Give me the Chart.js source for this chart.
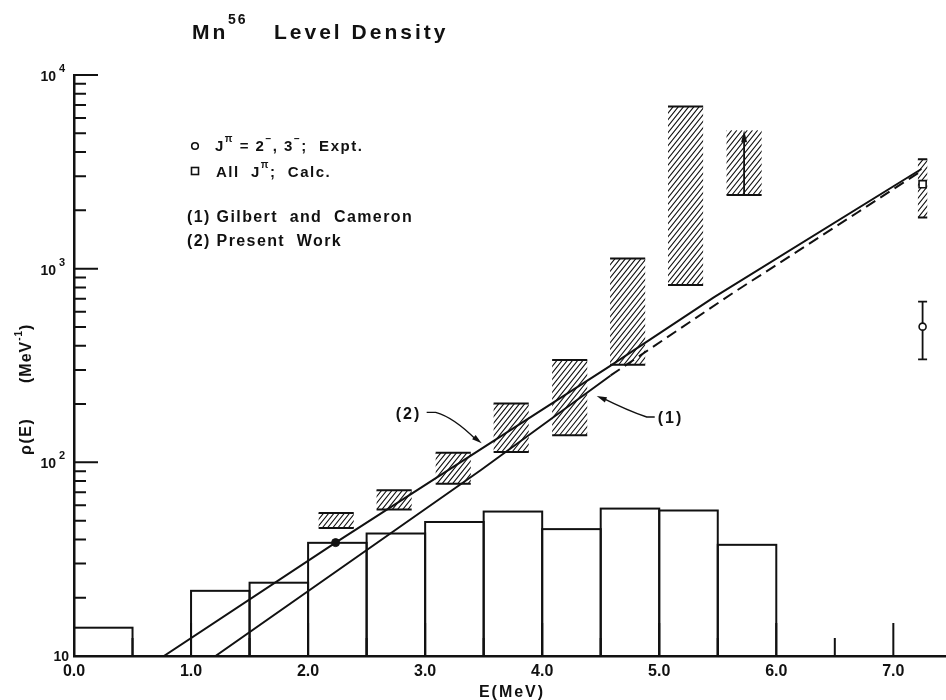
<!DOCTYPE html>
<html>
<head>
<meta charset="utf-8">
<title>Mn56 Level Density</title>
<script src="https://cdn.jsdelivr.net/npm/chart.js@4.4.1/dist/chart.umd.min.js"></script>
<style>
  body { margin: 0; background: #fff; }
</style>
</head>
<body>
<canvas id="chart" width="946" height="700"></canvas>
<script>
// calculated density, all J^pi, 0.5 MeV bins (bin start in MeV)
const binStart = [0.0, 1.0, 1.5, 2.0, 2.5, 3.0, 3.5, 4.0, 4.5, 5.0, 5.5];
const calcDensity = [14, 21.7, 23.9, 38.4, 42.9, 49.2, 55.7, 45.2, 57.7, 56.4, 37.5];
const binWidth = 0.5;

// experimental J^pi = 2-,3- ranges (hatched bands)
const bandCenter = [2.24, 2.735, 3.24, 3.735, 4.235, 4.73, 5.225, 5.725, 7.25];
const bandWidth = [0.3, 0.3, 0.3, 0.3, 0.3, 0.3, 0.3, 0.3, 0.08];
const bandLow = [45.8, 57, 77.6, 113, 138, 319, 824, 2400, 1840];
const bandHigh = [54.8, 71.8, 112, 201, 338, 1130, 6870, 5190, 3670];
const bandLowerLimit = [false, false, false, false, false, false, false, true, false];

// (2) present work
const presentE = [0.768, 2.235, 4.585, 5.466, 7.24];
const presentRho = [10, 38.5, 316, 711, 3270];

// (1) Gilbert and Cameron, solid part then dashed continuation
const gcE = [1.209, 3.474, 4.585];
const gcRho = [10, 91, 281];
const gcDashE = [4.585, 5.639, 6.694, 7.24];
const gcDashRho = [281, 755, 1950, 3200];

// points near the neutron binding energy
const exptE = [7.25];
const exptRho = [502];
const exptLow = [340];
const exptHigh = [676];
const calcAllE = [7.25];
const calcAllRho = [2730];
const matchE = [2.235];
const matchRho = [38.5];

// where the "(1)" and "(2)" arrows point
const curveTipE = [4.466, 3.483];
const curveTipRho = [220, 125.3];

const xTickValues = [0, 1, 2, 3, 4, 5, 6, 7];
const yDecades = [10, 100, 1000, 10000];
const yExponents = ["", "2", "3", "4"];

const FONT = '"Liberation Sans", Arial, sans-serif';
const INK = "#111";

const pts = (xs, ys) => xs.map((x, i) => ({ x: x, y: ys[i] }));

function setFont(ctx, size, spacing) {
  ctx.font = "bold " + size + "px " + FONT;
  ctx.letterSpacing = (spacing || 0) + "px";
}

// draw a run of text pieces, some raised as superscripts
function drawRich(ctx, x, y, parts, spacing) {
  let cx = x;
  parts.forEach(p => {
    setFont(ctx, p[1], spacing);
    ctx.fillText(p[0], cx, y - (p[2] || 0));
    cx += ctx.measureText(p[0]).width;
  });
  return cx;
}

function arrowHead(ctx, tx, ty, fromX, fromY, len, half) {
  const a = Math.atan2(ty - fromY, tx - fromX);
  ctx.beginPath();
  ctx.moveTo(tx, ty);
  ctx.lineTo(tx - len * Math.cos(a) + half * Math.sin(a), ty - len * Math.sin(a) - half * Math.cos(a));
  ctx.lineTo(tx - len * Math.cos(a) - half * Math.sin(a), ty - len * Math.sin(a) + half * Math.cos(a));
  ctx.closePath();
  ctx.fill();
}

const levelPlot = {
  id: "levelPlot",
  beforeDatasetsDraw(chart) {
    const { ctx, chartArea } = chart;
    const x = chart.scales.x;
    const y = chart.scales.y;
    const base = chartArea.bottom;
    ctx.save();
    ctx.strokeStyle = INK;
    ctx.fillStyle = INK;

    // inward ticks on the energy axis
    ctx.lineWidth = 2;
    ctx.beginPath();
    for (let e = 0.5; e <= 7.0; e += 0.5) {
      const px = x.getPixelForValue(e);
      const len = Number.isInteger(e) ? 33 : 18;
      ctx.moveTo(px, base);
      ctx.lineTo(px, base - len);
    }
    // inward ticks on the density axis
    yDecades.forEach((d, i) => {
      const py = y.getPixelForValue(d);
      if (i > 0) {
        ctx.moveTo(chartArea.left, py);
        ctx.lineTo(chartArea.left + 24, py);
      }
      if (i < yDecades.length - 1) {
        for (let m = 2; m <= 9; m++) {
          const pm = y.getPixelForValue(d * m);
          ctx.moveTo(chartArea.left, pm);
          ctx.lineTo(chartArea.left + 12, pm);
        }
      }
    });
    ctx.stroke();

    // histogram of calculated densities
    ctx.lineWidth = 2;
    binStart.forEach((e, i) => {
      const l = x.getPixelForValue(e);
      const r = x.getPixelForValue(e + binWidth);
      const t = y.getPixelForValue(calcDensity[i]);
      ctx.strokeRect(l, t, r - l, base - t);
    });

    // hatched experimental bands
    bandCenter.forEach((e, i) => {
      const l = x.getPixelForValue(e - bandWidth[i] / 2);
      const r = x.getPixelForValue(e + bandWidth[i] / 2);
      const t = y.getPixelForValue(bandHigh[i]);
      const b = y.getPixelForValue(bandLow[i]);
      const h = b - t;
      const lean = 0.8 * h;
      ctx.save();
      ctx.beginPath();
      ctx.rect(l, t, r - l, h);
      ctx.clip();
      ctx.lineWidth = 1.1;
      ctx.beginPath();
      for (let sx = l - lean; sx < r + 5; sx += 5.2) {
        ctx.moveTo(sx, b);
        ctx.lineTo(sx + lean, t);
      }
      ctx.stroke();
      ctx.restore();

      ctx.lineWidth = 2;
      ctx.beginPath();
      ctx.moveTo(l, b);
      ctx.lineTo(r, b);
      if (!bandLowerLimit[i]) {
        ctx.moveTo(l, t);
        ctx.lineTo(r, t);
      }
      ctx.stroke();

      if (bandLowerLimit[i]) {
        const cx = x.getPixelForValue(e);
        ctx.lineWidth = 1.8;
        ctx.beginPath();
        ctx.moveTo(cx, b);
        ctx.lineTo(cx, t + 6);
        ctx.stroke();
        arrowHead(ctx, cx, t, cx, b, 12, 3);
      }
    });

    // error bar on the experimental point
    ctx.lineWidth = 1.8;
    exptE.forEach((e, i) => {
      const px = x.getPixelForValue(e);
      const lo = y.getPixelForValue(exptLow[i]);
      const hi = y.getPixelForValue(exptHigh[i]);
      ctx.beginPath();
      ctx.moveTo(px, lo);
      ctx.lineTo(px, hi);
      ctx.moveTo(px - 4.5, lo);
      ctx.lineTo(px + 4.5, lo);
      ctx.moveTo(px - 4.5, hi);
      ctx.lineTo(px + 4.5, hi);
      ctx.stroke();
    });
    ctx.restore();
  },

  afterDatasetsDraw(chart) {
    const { ctx } = chart;
    const x = chart.scales.x;
    const y = chart.scales.y;
    ctx.save();
    ctx.strokeStyle = INK;
    ctx.fillStyle = INK;
    ctx.lineWidth = 1.4;
    ctx.textBaseline = "alphabetic";

    // (1) label, arrow from the right
    let tx = x.getPixelForValue(curveTipE[0]);
    let ty = y.getPixelForValue(curveTipRho[0]);
    ctx.beginPath();
    ctx.moveTo(tx + 58, ty + 21);
    ctx.lineTo(tx + 50, ty + 21);
    ctx.quadraticCurveTo(tx + 30, ty + 14, tx + 6, ty + 2);
    ctx.stroke();
    arrowHead(ctx, tx, ty, tx + 12, ty + 5, 10, 2.8);
    drawRich(ctx, tx + 61, ty + 27, [["(1)", 16]], 2);

    // (2) label, arrow from the left
    tx = x.getPixelForValue(curveTipE[1]);
    ty = y.getPixelForValue(curveTipRho[1]);
    ctx.beginPath();
    ctx.moveTo(tx - 55, ty - 31);
    ctx.lineTo(tx - 46, ty - 31);
    ctx.quadraticCurveTo(tx - 28, ty - 26, tx - 6, ty - 4);
    ctx.stroke();
    arrowHead(ctx, tx, ty, tx - 10, ty - 8, 10, 2.8);
    drawRich(ctx, tx - 86, ty - 24, [["(2)", 16]], 2);
    ctx.restore();
  },

  afterDraw(chart) {
    const { ctx, chartArea } = chart;
    const y = chart.scales.y;
    ctx.save();
    ctx.fillStyle = INK;
    ctx.strokeStyle = INK;
    ctx.textBaseline = "alphabetic";

    // title
    setFont(ctx, 21, 3);
    ctx.fillText("Mn", 192, 39);
    setFont(ctx, 14, 2);
    ctx.fillText("56", 228, 24);
    setFont(ctx, 21, 3);
    ctx.fillText("Level Density", 274, 39);

    // key
    ctx.lineWidth = 1.6;
    ctx.beginPath();
    ctx.arc(195, 146, 3.3, 0, Math.PI * 2);
    ctx.stroke();
    ctx.strokeRect(191.5, 167.5, 7, 7);
    drawRich(ctx, 215, 151, [["J", 15], ["\u03c0", 10, 9], [" = 2", 15], ["\u2212", 10, 9], [", 3", 15], ["\u2212", 10, 9], [";  Expt.", 15]], 1.5);
    drawRich(ctx, 216, 177, [["All  J", 15], ["\u03c0", 10, 9], [";  Calc.", 15]], 1.5);
    drawRich(ctx, 187, 222, [["(1) Gilbert  and  Cameron", 16]], 1.4);
    drawRich(ctx, 187, 246, [["(2) Present  Work", 16]], 1.4);

    // density axis labels
    yDecades.forEach((d, i) => {
      const py = y.getPixelForValue(d);
      if (i === 0) {
        setFont(ctx, 14, 0);
        ctx.textAlign = "right";
        ctx.fillText("10", 69, py + 5);
        ctx.textAlign = "left";
      } else {
        setFont(ctx, 14, 0);
        ctx.textAlign = "right";
        ctx.fillText("10", 56, py + 6);
        ctx.textAlign = "left";
        setFont(ctx, 11, 0);
        ctx.fillText(yExponents[i], 59, py - 3);
      }
    });

    // density axis title, reading upwards
    ctx.save();
    ctx.translate(31, 455);
    ctx.rotate(-Math.PI / 2);
    drawRich(ctx, 0, 0, [["\u03c1(E)", 16]], 1.5);
    drawRich(ctx, 72, 0, [["(MeV", 16], ["-1", 10, 9], [")", 16]], 1);
    ctx.restore();

    // energy axis title
    setFont(ctx, 16, 2);
    ctx.textAlign = "center";
    ctx.fillText("E(MeV)", (chartArea.left + chartArea.right) / 2 + 2, 697);
    ctx.restore();
  }
};

const config = {
  type: "scatter",
  data: {
    datasets: [
      {
        label: "(2) Present Work",
        data: pts(presentE, presentRho),
        showLine: true,
        borderColor: INK,
        borderWidth: 2,
        pointRadius: 0
      },
      {
        label: "(1) Gilbert and Cameron",
        data: pts(gcE, gcRho),
        showLine: true,
        borderColor: INK,
        borderWidth: 2,
        pointRadius: 0
      },
      {
        label: "(1) Gilbert and Cameron, continued",
        data: pts(gcDashE, gcDashRho),
        showLine: true,
        borderColor: INK,
        borderWidth: 2,
        borderDash: [11, 6],
        pointRadius: 0
      },
      {
        label: "J = 2-, 3-; Expt.",
        data: pts(exptE, exptRho),
        pointStyle: "circle",
        pointRadius: 3.5,
        pointBackgroundColor: "#fff",
        pointBorderColor: INK,
        pointBorderWidth: 1.6
      },
      {
        label: "All J; Calc.",
        data: pts(calcAllE, calcAllRho),
        pointStyle: "rect",
        pointRadius: 5,
        pointBackgroundColor: "#fff",
        pointBorderColor: INK,
        pointBorderWidth: 1.6
      },
      {
        label: "matching point",
        data: pts(matchE, matchRho),
        pointStyle: "circle",
        pointRadius: 4,
        pointBackgroundColor: INK,
        pointBorderColor: INK,
        pointBorderWidth: 1
      }
    ]
  },
  options: {
    responsive: false,
    animation: false,
    events: [],
    layout: { autoPadding: false, padding: { top: 75, right: 0, left: 0, bottom: 0 } },
    plugins: {
      legend: { display: false },
      tooltip: { enabled: false }
    },
    scales: {
      x: {
        type: "linear",
        min: 0,
        max: 7.45,
        afterFit: scale => {
          scale.height = 44;
          scale.paddingLeft = 0;
          scale.paddingRight = 0;
        },
        afterBuildTicks: scale => { scale.ticks = xTickValues.map(v => ({ value: v })); },
        grid: { display: false, drawTicks: false },
        border: { display: true, color: INK, width: 2.5 },
        ticks: {
          includeBounds: false,
          autoSkip: false,
          maxRotation: 0,
          padding: 6,
          color: INK,
          font: { family: FONT, size: 16, weight: "bold" },
          callback: v => v.toFixed(1)
        }
      },
      y: {
        type: "logarithmic",
        min: 10,
        max: 10000,
        afterFit: scale => { scale.width = 74; },
        grid: { display: false, drawTicks: false },
        border: { display: true, color: INK, width: 2.5 },
        ticks: { display: false }
      }
    }
  },
  plugins: [levelPlot]
};

const myChart = new Chart(document.getElementById("chart"), config);
</script>
</body>
</html>
